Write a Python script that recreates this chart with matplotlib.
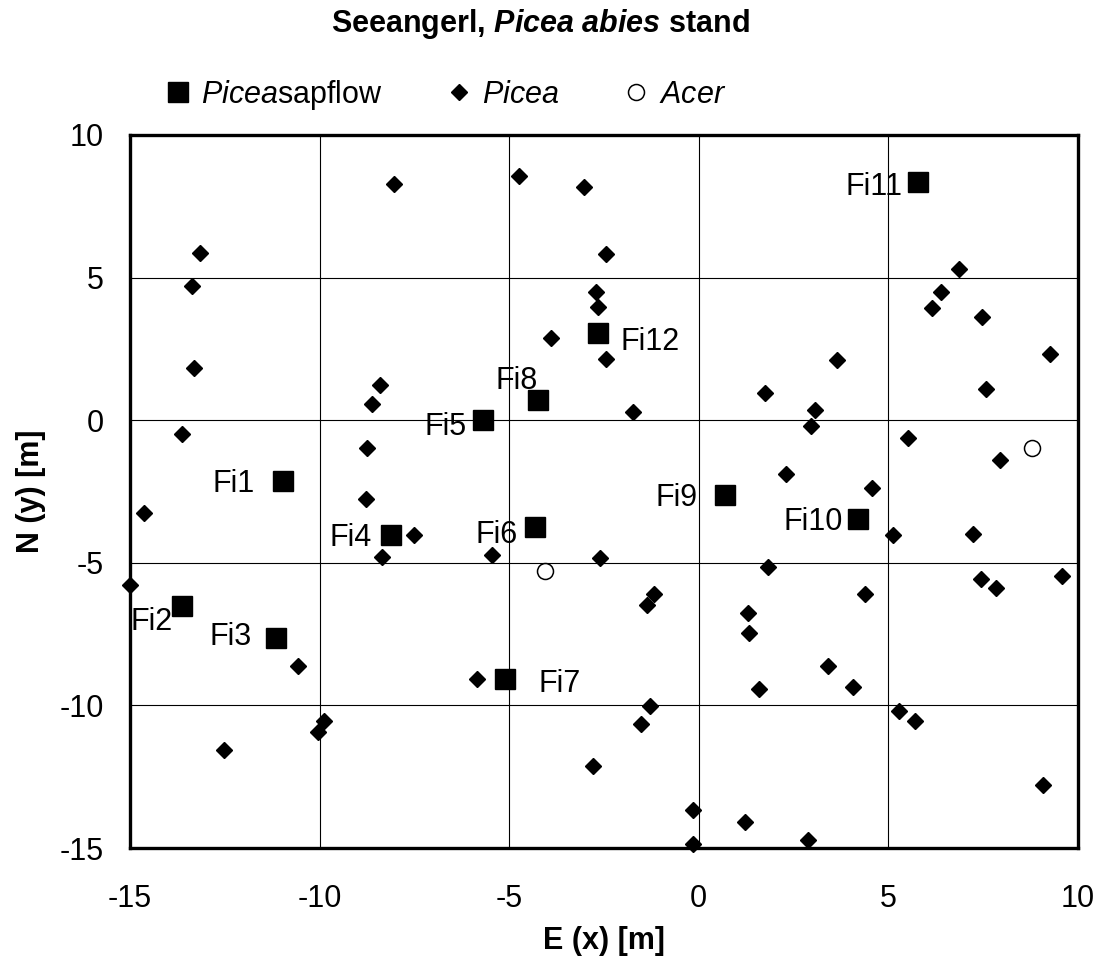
import matplotlib
matplotlib.use("Agg")
import matplotlib.pyplot as plt
from matplotlib.lines import Line2D

plt.rcParams['font.family'] = 'Liberation Sans'
plt.rcParams['axes.unicode_minus'] = False
plt.rcParams['mathtext.fontset'] = 'custom'
plt.rcParams['mathtext.rm'] = 'Liberation Sans'
plt.rcParams['mathtext.it'] = 'Liberation Sans:italic'
plt.rcParams['mathtext.bf'] = 'Liberation Sans:bold'
plt.rcParams['mathtext.bfit'] = 'Liberation Sans:italic:bold'

# Picea trees (diamonds)
picea_x = [-15.0, -14.63, -13.63, -13.32, -13.36, -13.16, -12.51, -10.58, -9.89, -10.05,
           -8.04, -8.42, -8.62, -8.74, -8.77, -7.50, -8.35, -5.46, -5.85, -4.73,
           -3.03, -2.45, -2.71, -2.65, -3.91, -2.45, -1.74, -2.60, -2.79, -1.17,
           -1.37, -1.29, -1.52, -0.14, -0.16, 1.22, 2.87, 1.75, 3.07, 2.96,
           3.65, 2.30, 4.56, 1.83, 1.30, 1.33, 3.42, 1.60, 4.07, 4.38,
           5.11, 5.53, 5.27, 5.69, 6.85, 6.38, 6.14, 7.46, 7.58, 7.93,
           9.27, 7.23, 7.44, 7.85, 9.59, 9.09]
picea_y = [-5.79, -3.27, -0.49, 1.82, 4.72, 5.87, -11.56, -8.61, -10.56, -10.93,
           8.29, 1.25, 0.57, -0.99, -2.78, -4.03, -4.80, -4.74, -9.09, 8.55,
           8.18, 5.82, 4.48, 3.97, 2.88, 2.14, 0.30, -4.84, -12.11, -6.09,
           -6.47, -10.03, -10.66, -13.67, -14.87, -14.09, -14.71, 0.94, 0.37, -0.20,
           2.10, -1.87, -2.37, -5.15, -6.77, -7.47, -8.61, -9.41, -9.35, -6.10,
           -4.04, -0.63, -10.18, -10.56, 5.30, 4.50, 3.94, 3.62, 1.10, -1.38,
           2.31, -3.99, -5.56, -5.90, -5.48, -12.78]

# Picea sapflow trees (squares)
sap_names = ['Fi1', 'Fi2', 'Fi3', 'Fi4', 'Fi5', 'Fi6', 'Fi7', 'Fi8', 'Fi9', 'Fi10', 'Fi11', 'Fi12']
sap_x = [-10.97, -13.63, -11.15, -8.11, -5.70, -4.33, -5.12, -4.25, 0.68, 4.19, 5.77, -2.67]
sap_y = [-2.13, -6.50, -7.63, -4.04, 0.0, -3.73, -9.09, 0.71, -2.63, -3.47, 8.35, 3.04]

# Acer trees (open circles)
acer_x = [-4.06, 8.78]
acer_y = [-5.27, -0.96]

# label offsets (points) and alignment
lab_dx = [-20, -6.5, -17.3, -13.7, -11.5, -12.2, 24.5, -15, -19.4, -10.8, -10.8, 16.6]
lab_dy = [0, -9.4, 3, 0, -3, -3.6, -1.4, 15.8, 0, 0, -1.4, -4.3]
lab_ha = ['right', 'right', 'right', 'right', 'right', 'right', 'left', 'center',
          'right', 'right', 'right', 'left']

fs = 22

fig = plt.figure(figsize=(11.04, 9.6), dpi=100)
ax = fig.add_axes([130/1104, 1-848/960, 948/1104, 713/960])

ax.plot(picea_x, picea_y, 'D', color='black', markersize=8, clip_on=False, zorder=4)
ax.plot(sap_x, sap_y, 's', color='black', markersize=14.9, clip_on=False, zorder=4)
ax.plot(acer_x, acer_y, 'o', markerfacecolor='white', markeredgecolor='black',
        markeredgewidth=1.1, markersize=11.5, clip_on=False, zorder=4)

for i in range(len(sap_names)):
    ax.annotate(sap_names[i], (sap_x[i], sap_y[i]), xytext=(lab_dx[i], lab_dy[i] - 7.9),
                textcoords='offset points', ha=lab_ha[i], va='baseline', fontsize=fs, zorder=5)

ax.set_xlim(-15, 10)
ax.set_ylim(-15, 10)
ax.set_xticks([-15, -10, -5, 0, 5, 10])
ax.set_yticks([-15, -10, -5, 0, 5, 10])
ax.grid(True, color='black', linewidth=0.8)
ax.set_axisbelow(True)
for s in ax.spines.values():
    s.set_linewidth(2.4)
    s.set_zorder(3)
ax.tick_params(axis='both', length=0, labelsize=fs)
ax.tick_params(axis='x', pad=26)
ax.tick_params(axis='y', pad=19)

ax.set_xlabel('E (x) [m]', fontsize=fs, fontweight='bold', va='center')
ax.set_ylabel('N (y) [m]', fontsize=fs, fontweight='bold', va='center')
ax.xaxis.set_label_coords(0.5, -0.131)
ax.yaxis.set_label_coords(-0.104, 0.5)

fig.text(540/1104, 1-24/960, r"Seeangerl, $\mathbfit{Picea\ abies}$ stand",
         fontweight='bold', ha='center', va='center', fontsize=fs)

handles = [
    Line2D([], [], linestyle='none', marker='s', color='black', markersize=14.9),
    Line2D([], [], linestyle='none', marker='D', color='black', markersize=8),
    Line2D([], [], linestyle='none', marker='o', markerfacecolor='white',
           markeredgecolor='black', markeredgewidth=1.1, markersize=11.5),
]
labels = [r"$\mathit{Picea}$sapflow", r"$\mathit{Picea}$", r"$\mathit{Acer}$"]
fig.legend(handles, labels, loc='center left', bbox_to_anchor=(163/1104, 1-95/960),
           ncol=3, frameon=False, fontsize=fs, handlelength=1.0, handletextpad=0.25,
           columnspacing=2.0, borderpad=0, borderaxespad=0)

fig.savefig('out.png', dpi=100)
